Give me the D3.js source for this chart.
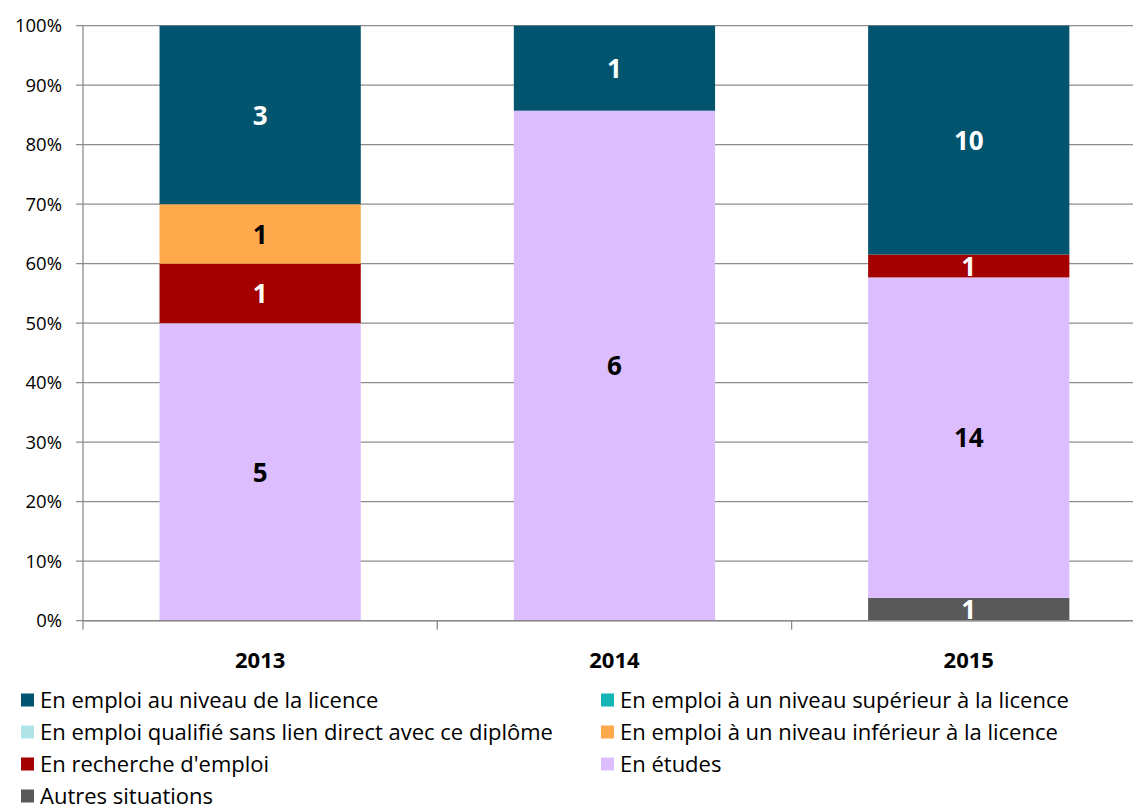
<!DOCTYPE html>
<html>
<head>
<meta charset="utf-8">
<script src="https://cdn.jsdelivr.net/npm/d3@7"></script>
<style>
  body { margin: 0; background: #fff; }
  svg text { font-family: "Open Sans", sans-serif; }
</style>
</head>
<body>
<div id="chart"></div>
<script>
var years = ["2013", "2014", "2015"];
var series = [
  "En emploi au niveau de la licence",
  "En emploi à un niveau supérieur à la licence",
  "En emploi qualifié sans lien direct avec ce diplôme",
  "En emploi à un niveau inférieur à la licence",
  "En recherche d'emploi",
  "En études",
  "Autres situations"
];
var colors = ["#02546f", "#14b5b5", "#b1e4e6", "#ffa94d", "#a50000", "#dcbeff", "#595959"];
var labelColors = ["#fff", "#fff", "#000", "#000", "#fff", "#000", "#fff"];
// counts per year, same order as series
var counts = {
  "2013": [3, 0, 0, 1, 1, 5, 0],
  "2014": [1, 0, 0, 0, 0, 6, 0],
  "2015": [10, 0, 0, 0, 1, 14, 1]
};
var yTicks = [0, 0.1, 0.2, 0.3, 0.4, 0.5, 0.6, 0.7, 0.8, 0.9, 1];

var width = 1133, height = 811;
var svg = d3.select("#chart").append("svg")
    .attr("width", width)
    .attr("height", height);

var x0 = 83, yTop = 25.7, yBot = 620.7;
var xScale = d3.scaleBand().domain(years).range([x0, x0 + 3 * 354.3])
    .paddingInner(0.432).paddingOuter(0.216);
var yScale = d3.scaleLinear().domain([0, 1]).range([yBot, yTop]);

// gridlines
svg.append("g").selectAll("line")
    .data(yTicks)
    .enter().append("line")
    .attr("x1", x0 - 7)
    .attr("x2", width)
    .attr("y1", function(d) { return yScale(d); })
    .attr("y2", function(d) { return yScale(d); })
    .attr("stroke", "#8c8c8c")
    .attr("stroke-width", 1.3);

// stacked data, bottom = last series
var order = d3.range(series.length).reverse();
var stackData = years.map(function(y) {
  var total = d3.sum(counts[y]);
  var acc = 0, out = [];
  order.forEach(function(i) {
    var v = counts[y][i];
    out.push({year: y, i: i, v: v, y0: acc / total, y1: (acc + v) / total});
    acc += v;
  });
  return out;
});
var segs = [].concat.apply([], stackData).filter(function(d) { return d.v > 0; });

svg.append("g").selectAll("rect")
    .data(segs)
    .enter().append("rect")
    .attr("x", function(d) { return xScale(d.year); })
    .attr("width", xScale.bandwidth())
    .attr("y", function(d) { return yScale(d.y1); })
    .attr("height", function(d) { return yScale(d.y0) - yScale(d.y1); })
    .attr("fill", function(d) { return colors[d.i]; });

svg.append("g").selectAll("text")
    .data(segs)
    .enter().append("text")
    .attr("x", function(d) { return xScale(d.year) + xScale.bandwidth() / 2; })
    .attr("y", function(d) { return (yScale(d.y0) + yScale(d.y1)) / 2; })
    .attr("dy", "0.37em")
    .attr("text-anchor", "middle")
    .attr("font-size", 26)
    .attr("font-weight", "bold")
    .attr("fill", function(d) { return labelColors[d.i]; })
    .text(function(d) { return d.v; });

// y axis
svg.append("line")
    .attr("x1", x0).attr("x2", x0)
    .attr("y1", yTop).attr("y2", yBot + 9)
    .attr("stroke", "#8c8c8c").attr("stroke-width", 1.3);
svg.append("line")
    .attr("x1", x0).attr("x2", width)
    .attr("y1", yBot).attr("y2", yBot)
    .attr("stroke", "#8c8c8c").attr("stroke-width", 1.5);

svg.append("g").selectAll("text")
    .data(yTicks)
    .enter().append("text")
    .attr("x", 62)
    .attr("y", function(d) { return yScale(d); })
    .attr("dy", "0.36em")
    .attr("text-anchor", "end")
    .attr("font-size", 18.5)
    .attr("fill", "#000")
    .text(function(d) { return d3.format(".0%")(d); });

// x ticks between categories
svg.append("g").selectAll("line")
    .data(years.slice(1))
    .enter().append("line")
    .attr("x1", function(d) { return xScale(d) - xScale.step() * xScale.paddingInner() / 2; })
    .attr("x2", function(d) { return xScale(d) - xScale.step() * xScale.paddingInner() / 2; })
    .attr("y1", yBot).attr("y2", yBot + 9)
    .attr("stroke", "#8c8c8c").attr("stroke-width", 1.3);

svg.append("g").selectAll("text")
    .data(years)
    .enter().append("text")
    .attr("x", function(d) { return xScale(d) + xScale.bandwidth() / 2; })
    .attr("y", 660)
    .attr("dy", "0.36em")
    .attr("text-anchor", "middle")
    .attr("font-size", 22)
    .attr("font-weight", "bold")
    .text(function(d) { return d; });

// legend
var legend = svg.append("g").selectAll("g")
    .data(series)
    .enter().append("g")
    .attr("transform", function(d, i) {
      var col = i % 2, row = Math.floor(i / 2);
      return "translate(" + (col ? 601 : 21) + "," + (700 + row * 32) + ")";
    });
legend.append("rect")
    .attr("x", 0).attr("y", -6.5)
    .attr("width", 13).attr("height", 13)
    .attr("fill", function(d, i) { return colors[i]; });
legend.append("text")
    .attr("x", 19)
    .attr("y", 0)
    .attr("dy", "0.36em")
    .attr("font-size", 22)
    .text(function(d) { return d; });
</script>
</body>
</html>
